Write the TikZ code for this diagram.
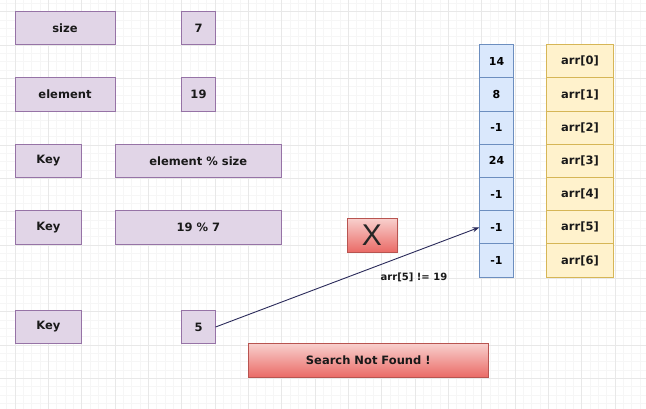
\documentclass[tikz,border=0pt]{standalone}
\usepackage{fontspec}
\setmainfont{DejaVu Sans}
\newfontfamily\xfont{Liberation Sans}
\usetikzlibrary{arrows.meta}
\definecolor{pfill}{HTML}{E1D5E7}
\definecolor{pline}{HTML}{9673A6}
\definecolor{bfill}{HTML}{DAE8FC}
\definecolor{bline}{HTML}{6C8EBF}
\definecolor{yfill}{HTML}{FFF2CC}
\definecolor{yline}{HTML}{D6B656}
\definecolor{rtop}{HTML}{F8CECC}
\definecolor{rbot}{HTML}{EA6B66}
\definecolor{rline}{HTML}{B85450}
\definecolor{gmin}{HTML}{F6F6F6}
\definecolor{gmaj}{HTML}{E8E8E8}
\definecolor{arrowc}{HTML}{2A2A5A}
\tikzset{
  lbl/.style={font=\fontsize{11.5}{13}\selectfont\bfseries, text=black!90},
  pbox/.style={draw=pline, fill=pfill, line width=0.9pt, rectangle, inner sep=0pt, lbl},
  bcell/.style={draw=bline, fill=bfill, line width=0.9pt, rectangle, inner sep=0pt, minimum width=33.3pt, minimum height=33.2pt, font=\fontsize{11}{13}\selectfont\bfseries},
  ycell/.style={draw=yline, fill=yfill, line width=0.9pt, rectangle, inner sep=0pt, minimum width=66.6pt, minimum height=33.2pt, lbl},
  rbox/.style={draw=rline, line width=0.9pt, top color=rtop, bottom color=rbot, rectangle, inner sep=0pt},
}
\begin{document}
\begin{tikzpicture}[x=1pt,y=-1pt]
\useasboundingbox (0,0) rectangle (646,409);
\fill[white] (0,0) rectangle (646,409);
% grid
\begin{scope}
\clip (0,0) rectangle (646,409);
\foreach \i in {0,...,80} {
  \draw[gmin, line width=0.6pt] ({-1.667+8.3333*\i},0) -- ++(0,409);
}
\foreach \i in {0,...,50} {
  \draw[gmin, line width=0.6pt] (0,{3.333+8.3333*\i}) -- ++(646,0);
}
\foreach \i in {0,...,20} {
  \draw[gmaj, line width=0.8pt] ({15+33.333*(\i-1)},0) -- ++(0,409);
}
\foreach \i in {0,...,13} {
  \draw[gmaj, line width=0.8pt] (0,{11.667+33.333*(\i-1)}) -- ++(646,0);
}
\end{scope}

% left column boxes
\node[pbox, minimum width=100pt, minimum height=33.3pt] (size) at (65,28) {size};
\node[pbox, minimum width=33.3pt, minimum height=33.3pt] (sizev) at (198.5,28) {7};
\node[pbox, minimum width=100pt, minimum height=33.3pt] (elem) at (65,94.5) {element};
\node[pbox, minimum width=33.3pt, minimum height=33.3pt] (elemv) at (198.5,94.5) {19};
\node[pbox, minimum width=66.6pt, minimum height=33.3pt] (key1) at (48.3,161) {Key};
\node[pbox, minimum width=166.6pt, minimum height=33.3pt] (expr1) at (198.3,161) {element \% size};
\node[pbox, minimum width=66.6pt, minimum height=33.3pt] (key2) at (48.3,227.5) {Key};
\node[pbox, minimum width=166.6pt, minimum height=33.3pt] (expr2) at (198.3,227.5) {19 \% 7};
\node[pbox, minimum width=66.6pt, minimum height=33.3pt] (key3) at (48.3,327) {Key};
\node[pbox, minimum width=33.3pt, minimum height=33.3pt] (keyv) at (198.5,327) {5};

% array
\foreach \v [count=\k from 0] in {14,8,-1,24,-1,-1,-1} {
  \node[bcell] (b\k) at (496.5,{61.3+33.2*\k}) {\v};
  \node[ycell] (y\k) at (580,{61.3+33.2*\k}) {arr[\k]};
}

% X box
\node[rbox, minimum width=50pt, minimum height=33.3pt, font=\xfont\fontsize{30}{30}\selectfont, text=black!85] (xbox) at (372,235.5) {X};

% Search not found
\node[rbox, minimum width=240pt, minimum height=33.3pt, lbl] (sfound) at (368.3,360.5) {Search Not Found !};

% arrow
\draw[arrowc, line width=0.9pt, -{Stealth[length=7pt,width=5pt]}] (keyv.east) -- (b5.west);
\node[font=\fontsize{10}{12}\selectfont\bfseries, text=black!90] (elabel) at (414,277) {arr[5] != 19};
\end{tikzpicture}
\end{document}
